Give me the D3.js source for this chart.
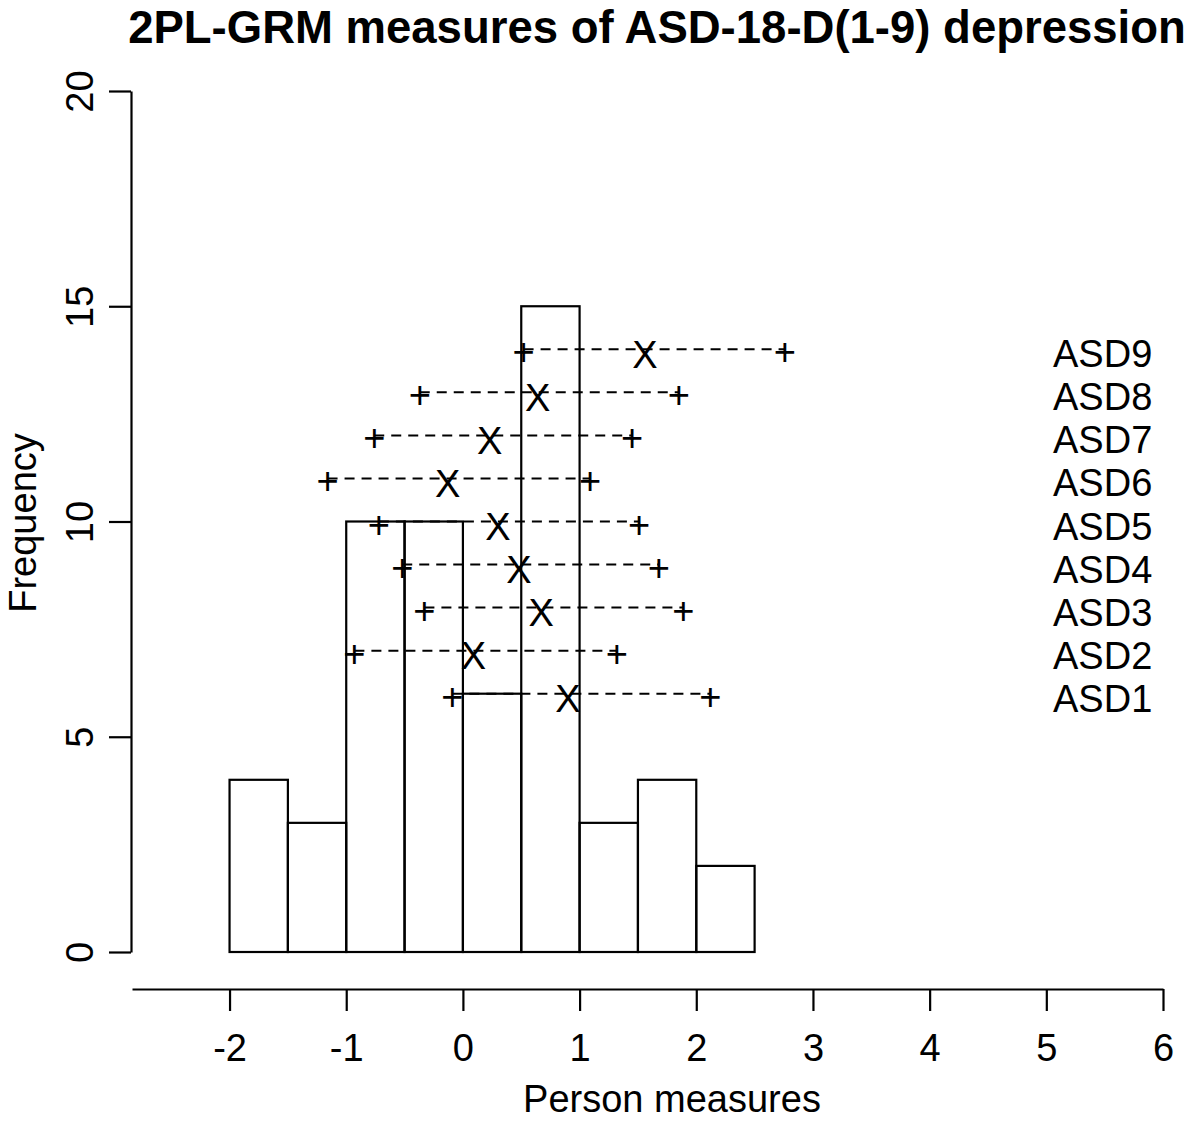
<!DOCTYPE html>
<html><head><meta charset="utf-8">
<script src="https://cdn.jsdelivr.net/npm/d3@7"></script>
<style>body{margin:0;background:#fff}svg{display:block}text{font-family:"Liberation Sans",Arial,Helvetica,sans-serif;fill:#000}</style>
</head><body>
<svg id="c" width="1200" height="1123"></svg>
<script>
const binStarts = [-2, -1.5, -1, -0.5, 0, 0.5, 1, 1.5, 2];
const binWidth = 0.5;
const binCounts = [4, 3, 10, 10, 6, 15, 3, 4, 2];
const items = ["ASD1","ASD2","ASD3","ASD4","ASD5","ASD6","ASD7","ASD8","ASD9"];
const itemLevel = [6, 7, 8, 9, 10, 11, 12, 13, 14];
const itemLow =  [-0.09, -0.93, -0.33, -0.52, -0.72, -1.16, -0.76, -0.37, 0.52];
const itemMid =  [0.90, 0.09, 0.67, 0.48, 0.30, -0.13, 0.23, 0.64, 1.56];
const itemHigh = [2.12, 1.32, 1.89, 1.68, 1.51, 1.09, 1.45, 1.85, 2.76];
const xTicks = [-2, -1, 0, 1, 2, 3, 4, 5, 6];
const yTicks = [0, 5, 10, 15, 20];

const svg = d3.select("#c");
const x = d3.scaleLinear().domain([-2.836, 6]).range([132, 1163]);
const y = d3.scaleLinear().domain([0, 20]).range([952, 91]);
const fmt = d => String(d);

// histogram
svg.append("g").selectAll("rect").data(binCounts).join("rect")
  .attr("x", (d,i) => x(binStarts[i]))
  .attr("y", d => y(d))
  .attr("width", (d,i) => x(binStarts[i] + binWidth) - x(binStarts[i]))
  .attr("height", d => y(0) - y(d))
  .attr("fill", "none").attr("stroke", "#000").attr("stroke-width", 2.2);

// axes
const fs = 38;
const yAxis = svg.append("g").attr("transform", "translate(131,0)")
  .call(d3.axisLeft(y).tickValues(yTicks).tickFormat(fmt).tickSize(22).tickPadding(0).tickSizeOuter(0));
yAxis.select(".domain").attr("stroke-width", 2.2);
yAxis.selectAll(".tick line").attr("stroke-width", 2.2);
yAxis.selectAll(".tick text").attr("font-size", fs).attr("font-family", null)
  .attr("x", null).attr("text-anchor", "middle")
  .attr("transform", "translate(-52,0) rotate(-90)").attr("dy", "0.36em").attr("y", 0);

const xAxis = svg.append("g").attr("transform", "translate(0,989)")
  .call(d3.axisBottom(x).tickValues(xTicks).tickFormat(fmt).tickSize(22).tickPadding(0).tickSizeOuter(0));
xAxis.select(".domain").attr("stroke-width", 2.2);
xAxis.selectAll(".tick line").attr("stroke-width", 2.2);
xAxis.selectAll(".tick text").attr("font-size", fs).attr("font-family", null)
  .attr("y", 72).attr("dy", null);

// item lines
const g = svg.append("g");
items.forEach((name, i) => {
  const yy = y(itemLevel[i]);
  g.append("line").attr("x1", x(itemLow[i])).attr("x2", x(itemHigh[i]))
    .attr("y1", yy).attr("y2", yy)
    .attr("stroke", "#000").attr("stroke-width", 2).attr("stroke-dasharray", "10,7");
  [itemLow[i], itemHigh[i]].forEach(v => {
    g.append("text").attr("x", x(v)).attr("y", yy + 16).attr("text-anchor", "middle")
      .attr("font-size", 38).text("+");
  });
  g.append("text").attr("x", x(itemMid[i])).attr("y", yy + 18.5).attr("text-anchor", "middle")
    .attr("font-size", 38).text("X");
  g.append("text").attr("x", 1053).attr("y", yy + 18).attr("font-size", fs).text(name);
});

// labels
svg.append("text").attr("x", 657).attr("y", 43).attr("text-anchor", "middle")
  .attr("font-size", 45.5).attr("font-weight", "bold").text("2PL-GRM measures of ASD-18-D(1-9) depression");
svg.append("text").attr("x", 672).attr("y", 1112).attr("text-anchor", "middle")
  .attr("font-size", fs).text("Person measures");
svg.append("text").attr("transform", "translate(36,523) rotate(-90)").attr("text-anchor", "middle")
  .attr("font-size", fs).text("Frequency");
</script>
</body></html>
